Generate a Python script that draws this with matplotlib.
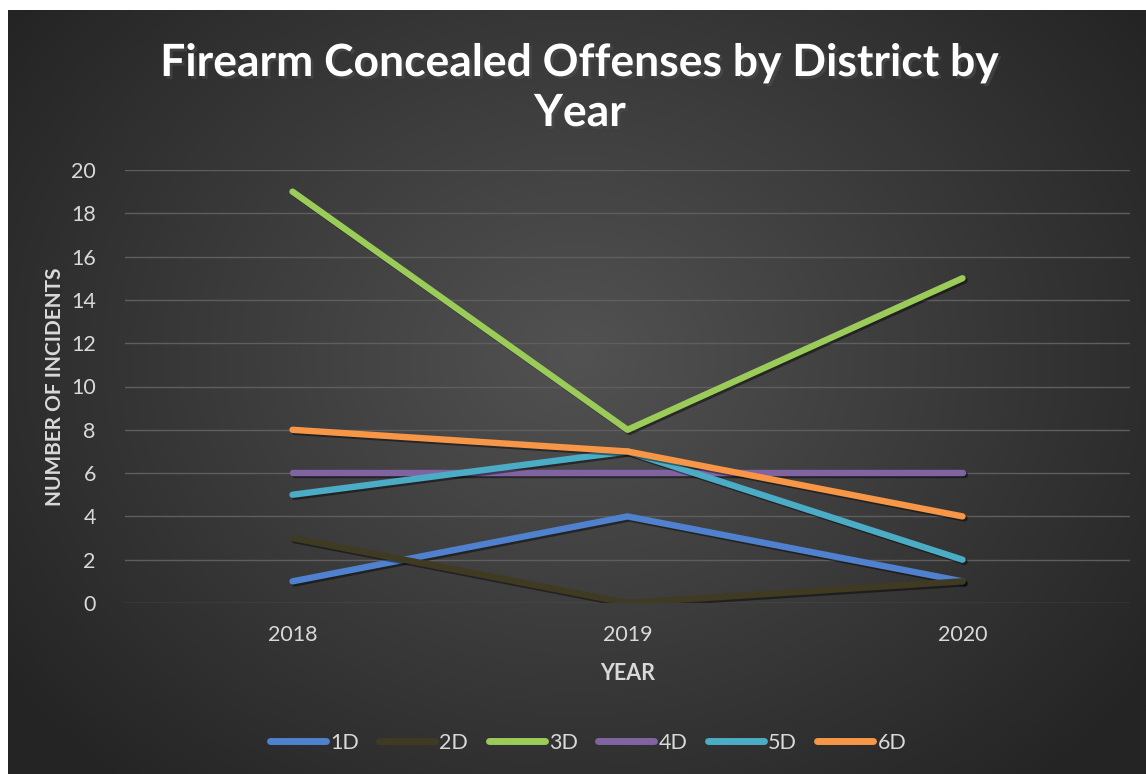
import numpy as np
import matplotlib
matplotlib.use("Agg")
import matplotlib.pyplot as plt
import matplotlib.patheffects as pe
from matplotlib.lines import Line2D

years = ["2018", "2019", "2020"]
d1 = [1, 4, 1]
d2 = [3, 0, 1]
d3 = [19, 8, 15]
d4 = [6, 6, 6]
d5 = [5, 7, 2]
d6 = [8, 7, 4]
series_names = ["1D", "2D", "3D", "4D", "5D", "6D"]
series_vals = [d1, d2, d3, d4, d5, d6]
colors = ["#4F81CF", "#3F3A22", "#9BCB58", "#8064A2", "#4BACC6", "#F79646"]
yticks = [0, 2, 4, 6, 8, 10, 12, 14, 16, 18, 20]

W, H = 1146, 774
fig = plt.figure(figsize=(W / 100, H / 100), dpi=100)
fig.patch.set_facecolor("white")

# background radial gradient
bg = fig.add_axes([8 / W, 0, 1 - 8 / W, 1 - 10 / H])
bg.set_axis_off()
ny, nx = 300, 450
yy, xx = np.mgrid[0:ny, 0:nx]
cx, cy = nx * 0.5, ny * 0.45
r = np.sqrt(((xx - cx) / (nx * 0.62)) ** 2 + ((yy - cy) / (ny * 0.75)) ** 2)
r = np.clip(r, 0, 1)
inner = np.array([0x52, 0x52, 0x52]) / 255
outer = np.array([0x24, 0x24, 0x24]) / 255
img = inner[None, None, :] * (1 - r[..., None]) + outer[None, None, :] * r[..., None]
bg.imshow(img, aspect="auto", extent=[0, 1, 0, 1], interpolation="bilinear")
bg.set_xlim(0, 1)
bg.set_ylim(0, 1)

ax = fig.add_axes([125 / W, 1 - 603 / H, (1130 - 125) / W, (603 - 170) / H])
ax.patch.set_alpha(0)
x = np.arange(len(years))
shadow = [pe.SimpleLineShadow(offset=(1.5, -1.5), shadow_color="black", alpha=0.45), pe.Normal()]
for i, (name, vals, c) in enumerate(zip(series_names, series_vals, colors)):
    ax.plot(x, vals, color=c, lw=4.6, solid_capstyle="round", solid_joinstyle="round",
            zorder=3 + i, path_effects=shadow, label=name)

ax.set_xlim(-0.5, len(years) - 0.5)
ax.set_ylim(0, 20)
ax.set_yticks(yticks)
ax.set_xticks(x)
ax.set_xticklabels(years)
ax.grid(axis="y", color="#5E5E5E", lw=1)
ax.set_axisbelow(True)
for s in ax.spines.values():
    s.set_visible(False)
ax.tick_params(length=0, colors="#D9D9D9", labelsize=15.5)
ax.tick_params(axis="y", pad=21)
ax.tick_params(axis="x", pad=16)
for lab in ax.get_xticklabels() + ax.get_yticklabels():
    lab.set_fontfamily("Lato")
ax.set_ylabel("NUMBER OF INCIDENTS", color="#D9D9D9", fontsize=15, fontweight="bold",
              fontfamily="Lato", labelpad=4)
ax.set_xlabel("YEAR", color="#D9D9D9", fontsize=15.5, fontweight="bold", fontfamily="Lato",
              labelpad=13)

title_fx = [pe.withSimplePatchShadow(offset=(2, -2), alpha=0.6)]
fig.text(580 / W, 1 - 63 / H, "Firearm Concealed Offenses by District by", ha="center",
         va="center", color="white", fontsize=32, fontweight="bold", fontfamily="Lato",
         path_effects=title_fx)
fig.text(580 / W, 1 - 113 / H, "Year", ha="center", va="center", color="white",
         fontsize=32, fontweight="bold", fontfamily="Lato", path_effects=title_fx)

handles = [Line2D([0], [0], color=c, lw=5, solid_capstyle="round") for c in colors]
leg = fig.legend(handles, series_names, loc="center", bbox_to_anchor=(588 / W, 1 - 743 / H),
                 ncol=6, frameon=False, handlelength=2.6, handletextpad=0.2,
                 columnspacing=0.95, prop={"family": "Lato", "size": 15.5})
for t in leg.get_texts():
    t.set_color("#D9D9D9")

fig.savefig("out.png", dpi=100)
